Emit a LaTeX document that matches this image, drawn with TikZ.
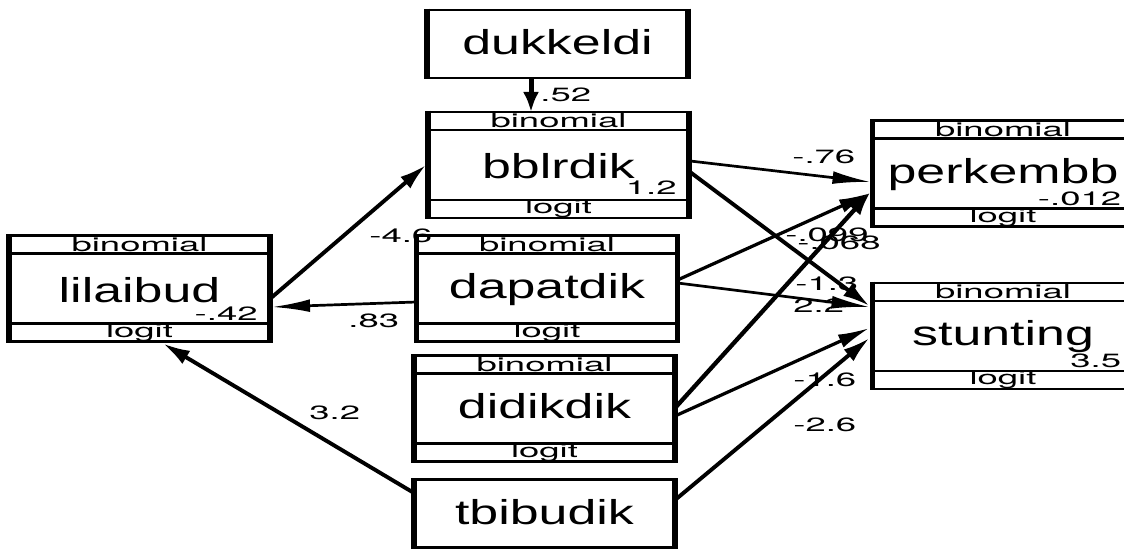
\documentclass[tikz,border=0pt]{standalone}
\usepackage{fontspec}
\setmainfont{Liberation Sans}
\newfontfamily\namefont[FakeStretch=1.5]{Liberation Sans}
\newfontfamily\smallfont{TeX Gyre Heros}
\newcommand{\wide}[1]{\scalebox{1.9}[1]{#1}}
\usetikzlibrary{calc}
\usetikzlibrary{arrows.meta}

\tikzset{
  box/.style={rectangle, draw=none, inner sep=0pt, outer sep=0pt,
    minimum width=130.5pt, minimum height=53pt},
  plainbox/.style={box, minimum height=34pt},
  varname/.style={inner sep=0pt, anchor=base, font=\namefont\fontsize{17.3}{20}\selectfont},
  smalltext/.style={inner sep=0pt, anchor=base, font=\smallfont\fontsize{9.6}{11}\selectfont},
  coef/.style={smalltext, anchor=base east},
  est/.style={smalltext, anchor=base west},
  hline/.style={line width=1.4pt},
  vline/.style={line width=2.8pt, shorten <=-0.7pt, shorten >=-0.7pt},
  vert/.style={line width=2.5pt, -{Latex[length=10pt,width=8pt]}},
  flat/.style={line width=1.35pt, -{Latex[length=19pt,width=6.4pt]}},
  mid/.style={line width=1.62pt, -{Latex[length=15.8pt,width=7pt]}},
  slope/.style={line width=1.95pt, -{Latex[length=13.5pt,width=7.6pt]}},
  steep/.style={line width=2.15pt, -{Latex[length=12pt,width=8pt]}}
}

\begin{document}
\begin{tikzpicture}[x=0.5pt, y=-0.5pt]
  \useasboundingbox (0,0) rectangle (1124,549);
  \clip (0,0) rectangle (1124,549);

  % boxes
  \node[plainbox] (dukkeldi) at (557.5,44) {};
  \node[box] (bblrdik) at (558.5,165) {};
  \node[box] (lilaibud) at (139.5,288.5) {};
  \node[box] (dapatdik) at (547,288.5) {};
  \node[box] (didikdik) at (544.5,408.5) {};
  \node[plainbox] (tbibudik) at (544.5,513.5) {};
  \node[box] (perkembb) at (1003,173.5) {};
  \node[box] (stunting) at (1003,336) {};

  \foreach \b in {dukkeldi,bblrdik,lilaibud,dapatdik,didikdik,tbibudik,perkembb,stunting} {
    \draw[hline] (\b.north west) rectangle (\b.south east);
    \draw[vline] (\b.north west) -- (\b.south west);
    \draw[vline] (\b.north east) -- (\b.south east);
  }
  % family and link rows
  \foreach \b in {bblrdik,lilaibud,dapatdik,didikdik,perkembb,stunting} {
    \draw[hline] ($(\b.north west)+(0,18)$) -- ($(\b.north east)+(0,18)$);
    \draw[hline] ($(\b.south west)+(0,-18)$) -- ($(\b.south east)+(0,-18)$);
    \node[smalltext] (\b-fam) at ($(\b.north)+(0,16)$) {\wide{binomial}};
    \node[smalltext] (\b-link) at ($(\b.south)+(0,-4)$) {\wide{logit}};
  }

  % variable names
  \node[varname] (dukkeldi-name) at ($(dukkeldi)+(0,11)$) {dukkeldi};
  \node[varname] (bblrdik-name) at ($(bblrdik.north)+(0,67)$) {bblrdik};
  \node[varname] (lilaibud-name) at ($(lilaibud.north)+(0,67)$) {lilaibud};
  \node[varname] (dapatdik-name) at ($(dapatdik.north)+(0,63)$) {dapatdik};
  \node[varname] (didikdik-name) at ($(didikdik.north)+(0,63)$) {didikdik};
  \node[varname] (tbibudik-name) at ($(tbibudik)+(0,11)$) {tbibudik};
  \node[varname] (perkembb-name) at ($(perkembb.north)+(0,63)$) {perkembb};
  \node[varname] (stunting-name) at ($(stunting.north)+(0,63)$) {stunting};

  % intercepts
  \node[coef] (bblrdik-cons) at ($(bblrdik.north east)+(-12,83)$) {\wide{1.2}};
  \node[coef] (lilaibud-cons) at ($(lilaibud.north east)+(-12,85)$) {\wide{-.42}};
  \node[coef] (perkembb-cons) at ($(perkembb.north east)+(-12,85)$) {\wide{-.012}};
  \node[coef] (stunting-cons) at ($(stunting.north east)+(-12,85)$) {\wide{3.5}};

  % paths
  \draw[vert] ($(dukkeldi.south)+(-26.5,0)$) -- ($(bblrdik.north)+(-27.5,0)$);
  \draw[slope] ($(lilaibud.east)+(1,9.5)$) -- ($(bblrdik.west)+(-2,0)$);
  \draw[flat] ($(dapatdik.west)+(0,13.5)$) -- ($(lilaibud.east)+(2,18.5)$);
  \draw[slope] ($(tbibudik.west)+(0,-20.5)$) -- ($(lilaibud.south)+(23.5,2)$);
  \draw[flat] ($(bblrdik.east)+(1,-4)$) -- ($(perkembb.west)+(-2,8.5)$);
  \draw[slope] ($(bblrdik.east)+(1,7)$) -- ($(stunting.west)+(-3,-30)$);
  \draw[mid] ($(dapatdik.east)+(0,-8.5)$) -- ($(perkembb.west)+(-2,19.5)$);
  \draw[flat] ($(dapatdik.east)+(0,-5.5)$) -- ($(stunting.west)+(-3,-29)$);
  \draw[steep] ($(didikdik.east)+(0,-0.5)$) -- ($(perkembb.west)+(-2,18.5)$);
  \draw[mid] ($(didikdik.east)+(0,7.5)$) -- ($(stunting.west)+(-3,-8)$);
  \draw[slope] ($(tbibudik.east)+(0,-13.5)$) -- ($(stunting.west)+(-3,2)$);

  % path coefficients
  \node[est] (e-dukkeldi) at (540,102) {\wide{.52}};
  \node[est] (e-lilaibud) at (369,243) {\wide{-4.6}};
  \node[est] (e-dapatdik) at (348,328) {\wide{.83}};
  \node[est] (e-tbibudik) at (309,420) {\wide{3.2}};
  \node[est] (e-bblrdik-p) at (792,164) {\wide{-.76}};
  \node[est] (e-bblrdik-s) at (795,291) {\wide{-1.3}};
  \node[est] (e-dapatdik-p) at (785,242) {\wide{-.099}};
  \node[est] (e-didikdik-p) at (797,250) {\wide{-.068}};
  \node[est] (e-dapatdik-s) at (793,313) {\wide{2.2}};
  \node[est] (e-didikdik-s) at (793,387) {\wide{-1.6}};
  \node[est] (e-tbibudik-s) at (793,432) {\wide{-2.6}};
\end{tikzpicture}
\end{document}
